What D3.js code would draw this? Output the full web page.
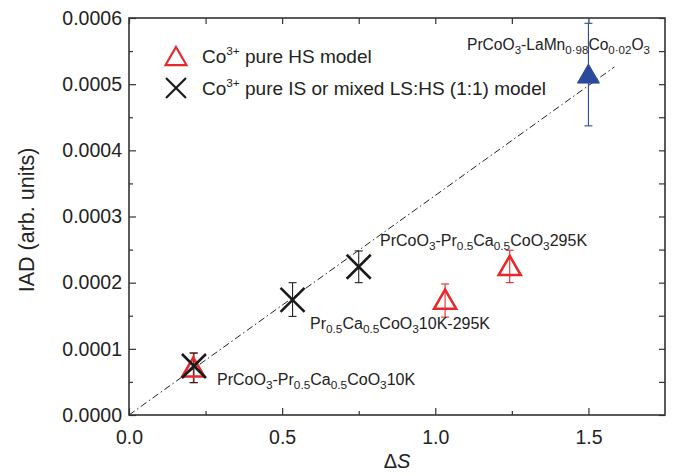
<!DOCTYPE html>
<html lang="en">
  <head>
    <meta charset="utf-8">
    <title>IAD vs Delta S</title>
    <script src="https://d3js.org/d3.v7.min.js"></script>
    <style>
      body { margin: 0; background: white; }
      text { font-family: "Liberation Sans", Arial, Helvetica, sans-serif; fill: #222; }
    </style>
  </head>
  <body>
    <script type="text/javascript">

      var w = 673;
      var h = 476;
      var margin = {top: 18, right: 8, bottom: 61, left: 129};
      var innerWidth = w - margin.left - margin.right;
      var innerHeight = h - margin.top - margin.bottom;

      // Co3+ pure HS model (red open triangles)
      var hsX  = [0.210, 1.032, 1.243];
      var hsY  = [0.0000725, 0.000175, 0.000226];
      var hsLo = [0.0000488, 0.000148, 0.000200];
      var hsHi = [0.0000937, 0.000198, 0.000249];

      // Co3+ pure IS or mixed LS:HS (1:1) model (black crosses)
      var isX  = [0.212, 0.534, 0.750];
      var isY  = [0.000074, 0.000174, 0.000224];
      var isLo = [0.000049, 0.000149, 0.000200];
      var isHi = [0.0000937, 0.000200, 0.000248];

      // PrCoO3-LaMn0.98Co0.02O3 (blue filled triangle)
      var lmX  = [1.5];
      var lmY  = [0.000516];
      var lmLo = [0.000437];
      var lmHi = [0.000592];

      // dash-dot guide line
      var fitX = [0, 1.585];
      var fitY = [0, 0.000526];

      var xTicks = [0, 0.5, 1.0, 1.5];
      var xMinor = [0.25, 0.75, 1.25];
      var yTicks = [0, 0.0001, 0.0002, 0.0003, 0.0004, 0.0005, 0.0006];
      var yMinor = [0.00005, 0.00015, 0.00025, 0.00035, 0.00045, 0.00055];

      var red = "#e8272b", blue = "#2b4a9c";

      var svg = d3.select("body").append("svg")
          .attr("width", w)
          .attr("height", h);

      var xScale = d3.scaleLinear().domain([0, 1.75]).range([0, innerWidth]);
      var yScale = d3.scaleLinear().domain([0, 0.0006]).range([innerHeight, 0]);

      var g = svg.append("g")
          .attr("transform", `translate(${margin.left}, ${margin.top})`);

// axes: inward ticks on all four sides
      function axisStyle(sel) {
        sel.select(".domain").remove();
        sel.selectAll("line").attr("stroke", "#333").attr("stroke-width", 1.2);
        sel.selectAll("text").filter(function() { return this.textContent === ""; }).remove();
        sel.selectAll("text").style("font-size", "19.5px").attr("fill", "#222");
      }

      g.append("g").attr("transform", `translate(0, ${innerHeight})`)
          .call(d3.axisBottom(xScale).tickValues(xTicks).tickSize(-7).tickPadding(15).tickFormat(d3.format(".1f")))
          .call(axisStyle);
      g.append("g").attr("transform", `translate(0, ${innerHeight})`)
          .call(d3.axisBottom(xScale).tickValues(xMinor).tickSize(-4).tickFormat(""))
          .call(axisStyle);
      g.append("g")
          .call(d3.axisTop(xScale).tickValues(xTicks.concat(xMinor)).tickSize(-6).tickFormat(""))
          .call(axisStyle);

      g.append("g")
          .call(d3.axisLeft(yScale).tickValues(yTicks).tickSize(-7).tickPadding(7).tickFormat(d3.format(".4f")))
          .call(axisStyle);
      g.append("g")
          .call(d3.axisLeft(yScale).tickValues(yMinor).tickSize(-4).tickFormat(""))
          .call(axisStyle);
      g.append("g").attr("transform", `translate(${innerWidth}, 0)`)
          .call(d3.axisRight(yScale).tickValues(yTicks.concat(yMinor)).tickSize(-6).tickFormat(""))
          .call(axisStyle);

      g.append("rect")
          .attr("width", innerWidth)
          .attr("height", innerHeight)
          .attr("fill", "none")
          .attr("stroke", "#333")
          .attr("stroke-width", 1.6);

// axis titles
      svg.append("text")
          .attr("transform", `translate(34, 220) rotate(-90)`)
          .attr("text-anchor", "middle")
          .style("font-size", "21.5px")
          .text("IAD (arb. units)");

      var xt = svg.append("text")
          .attr("x", margin.left + xScale(0.875))
          .attr("y", 468)
          .attr("text-anchor", "middle")
          .style("font-size", "20px");
      xt.append("tspan").text("\u0394");
      xt.append("tspan").style("font-style", "italic").text("S");

// guide line
      g.append("line")
          .attr("x1", xScale(fitX[0])).attr("y1", yScale(fitY[0]))
          .attr("x2", xScale(fitX[1])).attr("y2", yScale(fitY[1]))
          .attr("stroke", "#222")
          .attr("stroke-width", 1)
          .attr("stroke-dasharray", "7,3,1.5,3");

// error bars
      function errorBars(xs, lo, hi, color) {
        var eb = g.append("g").attr("stroke", color).attr("stroke-width", 1.1);
        xs.forEach(function(x, i) {
          eb.append("line").attr("x1", xScale(x)).attr("x2", xScale(x))
            .attr("y1", yScale(lo[i])).attr("y2", yScale(hi[i]));
          [lo[i], hi[i]].forEach(function(v) {
            eb.append("line").attr("x1", xScale(x) - 4).attr("x2", xScale(x) + 4)
              .attr("y1", yScale(v)).attr("y2", yScale(v));
          });
        });
      }

      function triPath(cx, cy, s) {
        s = s || 1;
        return `M${cx},${cy - 9.5 * s} L${cx + 11 * s},${cy + 9.5 * s} L${cx - 11 * s},${cy + 9.5 * s} Z`;
      }
      function crossPath(cx, cy, r) {
        r = r || 12;
        return `M${cx - r},${cy - r} L${cx + r},${cy + r} M${cx - r},${cy + r} L${cx + r},${cy - r}`;
      }

      errorBars(hsX, hsLo, hsHi, red);
      errorBars(isX, isLo, isHi, "#222");
      errorBars(lmX, lmLo, lmHi, blue);

      g.selectAll(".hs").data(hsX).enter().append("path")
          .attr("d", function(d, i) { return triPath(xScale(d), yScale(hsY[i])); })
          .attr("fill", "none")
          .attr("stroke", red)
          .attr("stroke-width", 2.6);

      g.selectAll(".is").data(isX).enter().append("path")
          .attr("d", function(d, i) { return crossPath(xScale(d), yScale(isY[i])); })
          .attr("fill", "none")
          .attr("stroke", "#1a1a1a")
          .attr("stroke-width", 2.6);

      g.selectAll(".lm").data(lmX).enter().append("path")
          .attr("d", function(d, i) { return triPath(xScale(d), yScale(lmY[i])); })
          .attr("fill", blue)
          .attr("stroke", blue)
          .attr("stroke-width", 1);

// labels with subscripts / superscripts
      function richText(x, y, parts, size) {
        var t = svg.append("text").attr("x", x).attr("y", y).style("font-size", size + "px");
        var offset = 0;
        parts.forEach(function(p) {
          var target = 0, fs = size;
          if (p[1] === "sub") { target = Math.round(size * 0.28); fs = size * 0.74; }
          if (p[1] === "sup") { target = -Math.round(size * 0.42); fs = size * 0.62; }
          t.append("tspan").attr("dy", target - offset).style("font-size", fs + "px").text(p[0]);
          offset = target;
        });
        return t;
      }

      richText(467, 50, [["PrCoO"], ["3", "sub"], ["-LaMn"], ["0\u00b798", "sub"], ["Co"], ["0\u00b702", "sub"], ["O"], ["3", "sub"]], 15.6);
      richText(380, 246, [["PrCoO"], ["3", "sub"], ["-Pr"], ["0.5", "sub"], ["Ca"], ["0.5", "sub"], ["CoO"], ["3", "sub"], ["295K"]], 16);
      richText(310, 329, [["Pr"], ["0.5", "sub"], ["Ca"], ["0.5", "sub"], ["CoO"], ["3", "sub"], ["10K-295K"]], 16);
      richText(217, 385, [["PrCoO"], ["3", "sub"], ["-Pr"], ["0.5", "sub"], ["Ca"], ["0.5", "sub"], ["CoO"], ["3", "sub"], ["10K"]], 16);

// legend
      svg.append("path")
          .attr("d", triPath(176, 56, 0.95))
          .attr("fill", "none")
          .attr("stroke", red)
          .attr("stroke-width", 2.2);
      svg.append("path")
          .attr("d", crossPath(176, 88, 10))
          .attr("fill", "none")
          .attr("stroke", "#1a1a1a")
          .attr("stroke-width", 2.2);

      richText(202, 63, [["Co"], ["3+", "sup"], [" pure HS model"]], 19);
      richText(202, 95, [["Co"], ["3+", "sup"], [" pure IS or mixed LS:HS (1:1) model"]], 19);

    </script>
  </body>
</html>
